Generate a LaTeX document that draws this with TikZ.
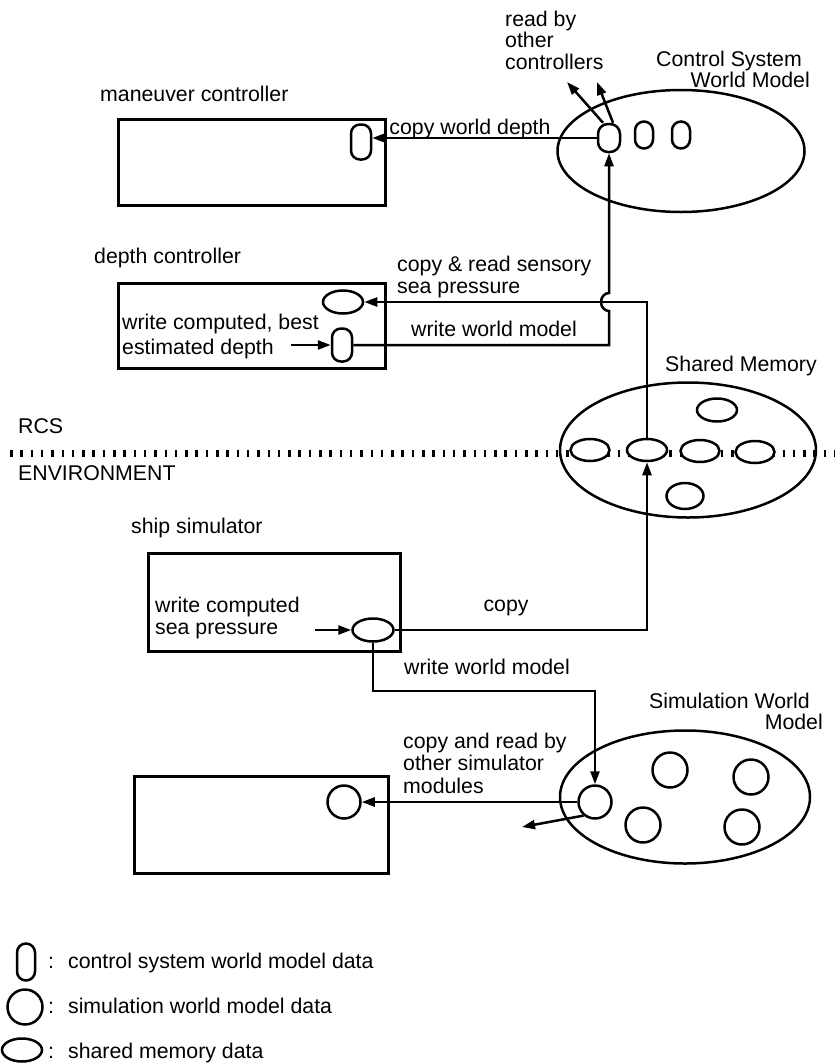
\documentclass[tikz,border=0pt]{standalone}
\usepackage{fontspec}
\setmainfont{Liberation Sans}
\usetikzlibrary{shapes.geometric,arrows.meta,calc}

\begin{document}
\begin{tikzpicture}[x=1pt, y=-1pt,
  lbl/.style={inner sep=0pt, font=\fontsize{21.3}{21.5}\selectfont, align=left},
  proc/.style={draw, line width=2.5pt, inner sep=0pt},
  capsule/.style={draw, line width=2.5pt, inner sep=0pt, minimum width=19pt, minimum height=30pt, rounded corners=9pt, fill=white},
  smell/.style={draw, ellipse, line width=2.5pt, inner sep=0pt, minimum width=40pt, minimum height=23pt, fill=white},
  simc/.style={draw, circle, line width=2.5pt, inner sep=0pt, minimum size=33pt, fill=white},
  wmell/.style={draw, ellipse, line width=2.5pt, inner sep=0pt},
  conn/.style={line width=2.5pt, -{Triangle[length=13pt,width=9pt]}},
  ticks/.style={line width=7pt, dash pattern=on 2.5pt off 7.8pt}
]
\useasboundingbox[fill=white] (0,0) rectangle (835,1063);

% multi-line labels are placed by the baseline of their last line

% ---- control system world model ----
\node[lbl, anchor=base west] (readby) at (505,69) {read by\\other\\controllers};
\node[lbl, anchor=base east] (cs1) at (802,66) {Control System};
\node[lbl, anchor=base east] (cs2) at (810,87) {World Model};

\node[wmell, minimum width=247pt, minimum height=122pt] (cswm) at (681,151) {};
\node[capsule, minimum width=22pt, minimum height=28pt, rounded corners=10pt] (k1) at (609,138) {};
\node[capsule, minimum width=18pt, minimum height=27pt] (k2) at (644,135) {};
\node[capsule, minimum width=18pt, minimum height=27pt] (k3) at (681,135) {};

\coordinate (r1) at (567,82);
\coordinate (r2) at (597,82);
\draw[conn] ([xshift=-6pt]k1.north) -- (r1);
\draw[conn] ([xshift=4pt]k1.north) -- (r2);

% ---- maneuver controller ----
\node[lbl, anchor=base west] (mlbl) at (100,101) {maneuver controller};
\node[proc, anchor=north west, minimum width=267pt, minimum height=86pt] (mbox) at (117,118) {};
\node[capsule, minimum width=20pt, minimum height=35pt] (mcap) at (361,142) {};
\draw[conn] (k1.west) -- (mcap.east |- k1.west);
\node[lbl, anchor=base] (cwd) at (470,134) {copy world depth};

% ---- depth controller ----
\node[lbl, anchor=base west] (dlbl) at (94,263) {depth controller};
\node[proc, anchor=north west, minimum width=267pt, minimum height=85pt] (dbox) at (117,282) {};
\node[smell] (dell) at (343,302) {};
\node[capsule, minimum width=20pt, minimum height=33pt] (dcap) at (342,345) {};
\node[lbl, anchor=base west, font=\fontsize{21.3}{25}\selectfont] (dtxt) at (122,354) {write computed, best\\estimated depth};
\coordinate (din) at (291,345);
\draw[conn] (din) -- (dcap.west);

\node[lbl, anchor=base west] (seatxt) at (397,293) {copy \& read sensory\\sea pressure};
\node[lbl, anchor=base] (wwm1) at (494,336) {write world model};

% ---- RCS / environment boundary ----
\draw[ticks] (10,453) -- (835,453);
\node[lbl, anchor=base west] (rcs) at (18,433) {RCS};
\node[lbl, anchor=base west] (env) at (18,480) {ENVIRONMENT};

% ---- shared memory ----
\node[lbl, anchor=base west] (smlbl) at (665,371) {Shared Memory};
\node[wmell, minimum width=256pt, minimum height=135pt] (sm) at (688,450) {};
\node[smell, minimum width=39pt, minimum height=22pt] (e1) at (590,450) {};
\node[smell, minimum height=22pt] (e2) at (647,450) {};
\node[smell, minimum width=39pt, minimum height=22pt] (e3) at (700,451) {};
\node[smell, minimum width=39pt, minimum height=22pt] (e4) at (755,452) {};
\node[smell] (e5) at (717,410) {};
\node[smell, minimum width=37pt, minimum height=26pt] (e6) at (685,496) {};

% sensory pressure copied up to the depth controller
\draw[conn] (e2.north) -- (e2.north |- dell.east) -- (dell.east);
% estimated depth written to the world model, hopping over the pressure line
\draw[conn] (dcap.east) -- (k1.south |- dcap.east)
  -- ($(k1.south |- dell.east)+(0,9)$)
  arc[start angle=90, end angle=270, x radius=8, y radius=9]
  -- (k1.south);

% ---- ship simulator ----
\node[lbl, anchor=base west] (slbl) at (131,533) {ship simulator};
\node[proc, anchor=north west, minimum width=252pt, minimum height=98pt] (sbox) at (147,552) {};
\node[lbl, anchor=base west] (stxt) at (155,634) {write computed\\sea pressure};
\node[smell, minimum width=41pt] (sell) at (373,630) {};
\coordinate (sin) at (315,630);
\draw[conn] (sin) -- (sell.west);
\draw[conn] (sell.east) -- (sell.east -| e2.south) -- (e2.south);
\node[lbl, anchor=base] (copylbl) at (506,611) {copy};

% ---- simulation world model ----
\node[lbl, anchor=base east] (sw1) at (810,708) {Simulation World};
\node[lbl, anchor=base east] (sw2) at (823,729) {Model};
\node[wmell, minimum width=250pt, minimum height=133pt] (swm) at (685,797) {};
\node[simc] (c1) at (595,802) {};
\node[simc, minimum size=35pt] (c2) at (670,770) {};
\node[simc, minimum size=35pt] (c3) at (751,777) {};
\node[simc, minimum size=35pt] (c4) at (643,825) {};
\node[simc, minimum size=35pt] (c5) at (742,827) {};

\coordinate (wy) at (0,691);
\draw[conn] (sell.south) -- (sell.south |- wy) -- (c1.north |- wy) -- (c1.north);
\node[lbl, anchor=base] (wwm2) at (487,674) {write world model};

\node[proc, anchor=north west, minimum width=254pt, minimum height=97pt] (bbox) at (133,775) {};
\node[simc] (bc) at (344,802) {};
\draw[conn] (c1.west) -- (bc.east);
\coordinate (rout) at (522,827);
\draw[conn] (c1.230) -- (rout);
\node[lbl, anchor=base west, font=\fontsize{21.3}{22.5}\selectfont] (cptxt) at (403,793) {copy and read by\\other simulator\\modules};

% ---- legend ----
\node[capsule, minimum width=18pt, minimum height=37pt] (l1) at (26,962) {};
\node[simc, minimum size=35pt] (l2) at (25,1007) {};
\node[smell, minimum width=40pt, minimum height=23pt] (l3) at (22,1050) {};
\node[lbl, anchor=base west] (t1) at (48,968) {:\hspace{14pt}control system world model data};
\node[lbl, anchor=base west] (t2) at (48,1013) {:\hspace{14pt}simulation world model data};
\node[lbl, anchor=base west] (t3) at (48,1058) {:\hspace{14pt}shared memory data};
\end{tikzpicture}
\end{document}
